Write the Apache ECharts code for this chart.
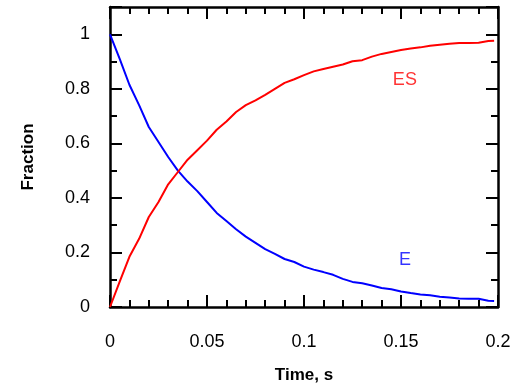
<!DOCTYPE html>
<html>
<head>
<meta charset="utf-8">
<script src="https://cdn.jsdelivr.net/npm/echarts@6/dist/echarts.min.js"></script>
<style>
  html, body { margin: 0; padding: 0; background: #fff; }
  #chart { width: 516px; height: 386px; }
</style>
</head>
<body>
<div id="chart"></div>
<script>
// time points (s)
var times = [0, 0.005, 0.01, 0.015, 0.02, 0.025, 0.03, 0.035, 0.04, 0.045,
  0.05, 0.055, 0.06, 0.065, 0.07, 0.075, 0.08, 0.085, 0.09, 0.095,
  0.1, 0.105, 0.11, 0.115, 0.12, 0.125, 0.13, 0.135, 0.14, 0.145,
  0.15, 0.155, 0.16, 0.165, 0.17, 0.175, 0.18, 0.185, 0.19, 0.195, 0.198];
// free enzyme fraction
var eValues = [1.0, 0.91, 0.815, 0.74, 0.66, 0.605, 0.55, 0.50, 0.46, 0.425,
  0.385, 0.345, 0.315, 0.285, 0.258, 0.235, 0.212, 0.195, 0.176, 0.165,
  0.148, 0.137, 0.128, 0.118, 0.103, 0.092, 0.087, 0.079, 0.070, 0.065,
  0.057, 0.051, 0.046, 0.043, 0.038, 0.035, 0.031, 0.030, 0.030, 0.023, 0.022];
// enzyme-substrate complex fraction
var esValues = [0, 0.093, 0.184, 0.25, 0.33, 0.385, 0.45, 0.495, 0.54, 0.575,
  0.61, 0.65, 0.68, 0.715, 0.74, 0.758, 0.778, 0.80, 0.822, 0.835,
  0.85, 0.864, 0.873, 0.881, 0.889, 0.901, 0.905, 0.918, 0.928, 0.935,
  0.942, 0.948, 0.952, 0.958, 0.962, 0.965, 0.968, 0.968, 0.969, 0.975, 0.976];
// where the curve names sit (data coords)
var esLabelAt = [0.152, 0.832];
var eLabelAt = [0.152, 0.172];

var font = '"Liberation Sans", Arial, sans-serif';

function pairs(xs, ys) {
  return xs.map(function (x, i) { return [x, ys[i]]; });
}

var chart = echarts.init(document.getElementById('chart'));

var lineStyleAxis = { color: '#000', width: 2.5 };

function yAxisDef(pos, interval, tickLen, showLabel, showLine) {
  return {
    type: 'value', position: pos, offset: 0,
    min: 0, max: 1.1, interval: interval,
    axisLine: { show: showLine, onZero: false, lineStyle: lineStyleAxis },
    axisTick: { show: true, inside: true, length: tickLen, lineStyle: { color: '#000', width: 2 } },
    axisLabel: {
      show: showLabel, margin: 20, fontSize: 18, color: '#000', fontFamily: font,
      formatter: function (v) { return v > 1.01 ? '' : String(Math.round(v * 10) / 10); }
    },
    splitLine: { show: false },
    name: showLabel ? 'Fraction' : '',
    nameLocation: 'middle', nameGap: 73,
    nameTextStyle: { fontSize: 17, fontWeight: 'bold', color: '#000', fontFamily: font }
  };
}

function xAxisDef(pos, showLabel) {
  return {
    type: 'value', position: pos, offset: 0,
    min: 0, max: 0.2, interval: 0.05,
    axisLine: { show: true, onZero: false, lineStyle: lineStyleAxis },
    axisTick: { show: true, inside: true, length: 12, lineStyle: { color: '#000', width: 2 } },
    minorTick: { show: true, splitNumber: 5, length: 7, lineStyle: { color: '#000', width: 2 } },
    axisLabel: {
      show: showLabel, margin: 26, fontSize: 18, color: '#000', fontFamily: font,
      formatter: function (v) { return String(Math.round(v * 100) / 100); }
    },
    splitLine: { show: false },
    name: showLabel ? 'Time, s' : '',
    nameLocation: 'middle', nameGap: 60,
    nameTextStyle: { fontSize: 17, fontWeight: 'bold', color: '#000', fontFamily: font }
  };
}

function nameLabel(text, at, color) {
  return {
    type: 'scatter', symbolSize: 0, silent: true,
    data: [at],
    label: {
      show: true, position: 'inside', formatter: text,
      color: color, fontSize: 18, fontFamily: font
    },
    itemStyle: { color: 'transparent' }
  };
}

var option = {
  animation: false,
  backgroundColor: '#fff',
  grid: { left: 110, right: 18, top: 7, bottom: 79, containLabel: false, outerBoundsMode: 'none' },
  xAxis: [xAxisDef('bottom', true), xAxisDef('top', false)],
  yAxis: [
    yAxisDef('left', 0.2, 12, true, true),
    yAxisDef('left', 0.1, 7, false, false),
    yAxisDef('right', 0.2, 12, false, true),
    yAxisDef('right', 0.1, 7, false, false)
  ],
  series: [
    {
      name: 'E', type: 'line', showSymbol: false, symbol: 'none',
      data: pairs(times, eValues),
      lineStyle: { color: '#0000ff', width: 2 }
    },
    {
      name: 'ES', type: 'line', showSymbol: false, symbol: 'none',
      data: pairs(times, esValues),
      lineStyle: { color: '#ff0000', width: 2 }
    },
    nameLabel('E', eLabelAt, '#0000ff'),
    nameLabel('ES', esLabelAt, '#ff0000')
  ]
};

chart.setOption(option);
</script>
</body>
</html>
